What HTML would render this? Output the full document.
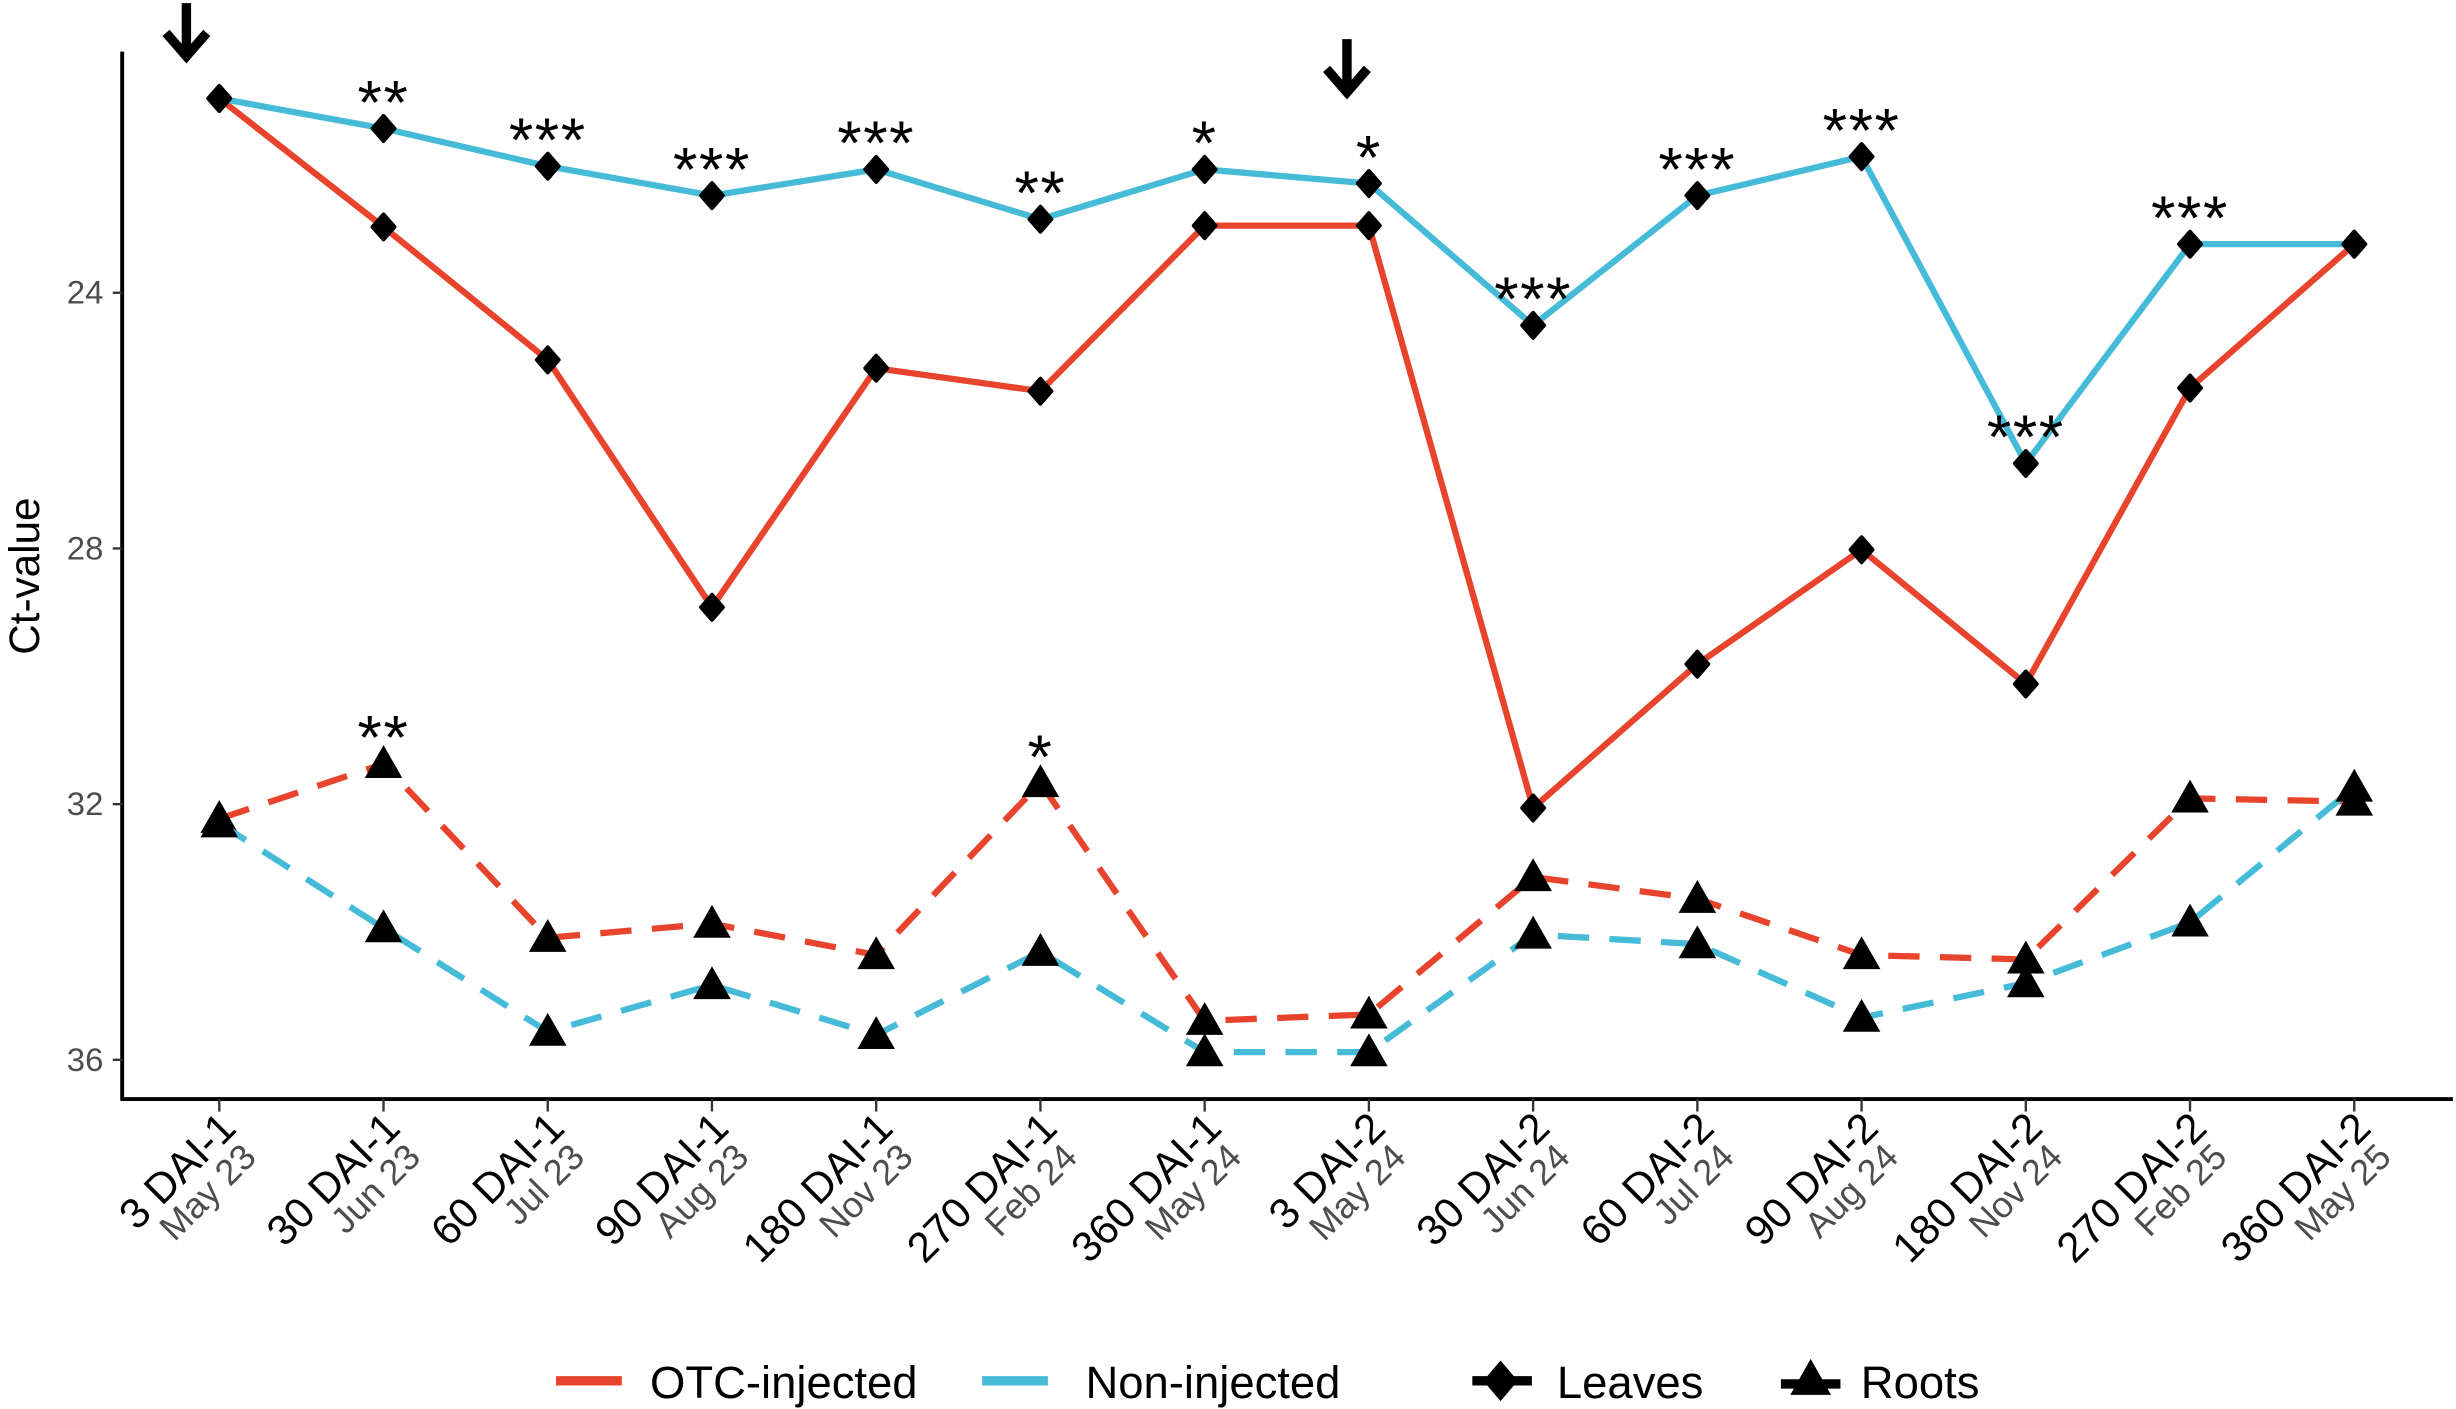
<!DOCTYPE html>
<html><head><meta charset="utf-8"><style>html,body{margin:0;padding:0;background:#fff}svg{display:block}</style></head>
<body>
<svg id="chart" width="2456" height="1409" viewBox="0 0 1568 900" preserveAspectRatio="none" xmlns="http://www.w3.org/2000/svg" font-family="Liberation Sans, Arial, sans-serif"></svg>
<script>
const categories=["3 DAI-1","30 DAI-1","60 DAI-1","90 DAI-1","180 DAI-1","270 DAI-1","360 DAI-1","3 DAI-2","30 DAI-2","60 DAI-2","90 DAI-2","180 DAI-2","270 DAI-2","360 DAI-2"];
const dates=["May 23","Jun 23","Jul 23","Aug 23","Nov 23","Feb 24","May 24","May 24","Jun 24","Jul 24","Aug 24","Nov 24","Feb 25","May 25"];
const leavesOTC=[20.96,22.97,25.05,28.92,25.18,25.54,22.95,22.95,32.06,29.81,28.02,30.12,25.49,23.24];
const leavesNon=[20.96,21.43,22.02,22.48,22.07,22.85,22.07,22.29,24.51,22.48,21.87,26.67,23.24,23.24];
const rootsOTC=[32.23,31.37,34.09,33.87,34.36,31.67,35.39,35.29,33.14,33.48,34.36,34.43,31.91,31.96];
const rootsNon=[32.30,33.94,35.56,34.83,35.61,34.31,35.88,35.88,34.04,34.19,35.34,34.80,33.85,31.74];
const leafStars=["","**","***","***","***","**","*","*","***","***","***","***","***",""];
const rootStars=["","**","","","","*","","","","","","","",""];
const yTicks=[24,28,32,36];
const arrowIdx=[0,7];

const svg=document.getElementById('chart');
const NS="http://www.w3.org/2000/svg";
const x=i=>140+i*104.85;
const y=v=>187+(v-24)*40.83;
function mk(tag,attrs,parent){const e=document.createElementNS(NS,tag);for(const k in attrs)e.setAttribute(k,attrs[k]);(parent||svg).appendChild(e);return e;}
const RED="#e8432c",BLUE="#45bbd8";

let ax=mk('line',{x1:78,y1:33,x2:78,y2:703,stroke:'#000','stroke-width':2.5});


ax=mk('line',{x1:77,y1:702,x2:1566,y2:702,stroke:'#000','stroke-width':2.5});


yTicks.forEach(t=>{
  mk('line',{x1:72,y1:y(t),x2:78,y2:y(t),stroke:'#333','stroke-width':1.5});
  const tx=mk('text',{x:66,y:y(t)+7,'text-anchor':'end','font-size':21,fill:'#4d4d4d'});
  tx.textContent=t;
  
  
});
const yl=mk('text',{x:0,y:0,transform:'translate(25,368) rotate(-90)','text-anchor':'middle','font-size':27,fill:'#000'});
yl.textContent='Ct-value';



categories.forEach((c,i)=>{
  mk('line',{x1:x(i),y1:702,x2:x(i),y2:710,stroke:'#333','stroke-width':1.5});
  const g=mk('g',{transform:`translate(${x(i)+12},722) rotate(-45)`});
  
  
  const t1=mk('text',{x:0,y:0,'text-anchor':'end','font-size':27,fill:'#000'},g);t1.textContent=c;
  const t2=mk('text',{x:-4,y:22,'text-anchor':'end','font-size':23,fill:'#4d4d4d'},g);t2.textContent=dates[i];
});

function series(vals,color,dash,name,marker){
  const p=mk('polyline',{points:vals.map((v,i)=>x(i)+','+y(v)).join(' '),fill:'none',stroke:color,'stroke-width':4,'stroke-dasharray':dash||'none','stroke-linejoin':'round'});
  
  
  vals.forEach((v,i)=>{
    let m;
    if(marker==='d') m=mk('path',{d:`M${x(i)},${y(v)-8} L${x(i)+7},${y(v)} L${x(i)},${y(v)+8} L${x(i)-7},${y(v)} Z`,fill:'#000',stroke:'#000','stroke-width':2.5,'stroke-linejoin':'round'});
    else m=mk('path',{d:`M${x(i)},${y(v)-12} L${x(i)+12},${y(v)+9} L${x(i)-12},${y(v)+9} Z`,fill:'#000'});
    
    
  });
}
series(leavesOTC,RED,null,'leaves-otc','d');
series(leavesNon,BLUE,null,'leaves-non','d');
series(rootsOTC,RED,'20 13','roots-otc','t');
series(rootsNon,BLUE,'20 13','roots-non','t');

leafStars.forEach((s,i)=>{if(!s)return;
  const top=Math.min(y(leavesOTC[i]),y(leavesNon[i]));
  const t=mk('text',{x:x(i),y:top-3,'text-anchor':'middle','font-size':40,fill:'#000','letter-spacing':1});t.textContent=s;
  
  
});
rootStars.forEach((s,i)=>{if(!s)return;
  const top=Math.min(y(rootsOTC[i]),y(rootsNon[i]));
  const t=mk('text',{x:x(i),y:top-3,'text-anchor':'middle','font-size':40,fill:'#000','letter-spacing':1});t.textContent=s;
  
  
});
arrowIdx.forEach((i,k)=>{
  const ax0=x(i)-(k===0?21:14), ay=k===0?2:25;
  const a=mk('path',{d:`M${ax0},${ay} L${ax0},${ay+32} M${ax0-13},${ay+19} L${ax0},${ay+34} L${ax0+13},${ay+19}`,stroke:'#000','stroke-width':6,fill:'none'});
  
  
});

const lg=mk('g',{});


function lgItem(name,draw,label,tx){
  const g=mk('g',{},lg);
  
  
  draw(g);
  const t=mk('text',{x:tx,y:893,'font-size':29,fill:'#000'},g);t.textContent=label;
}
lgItem('legend-entry-otc',g=>mk('line',{x1:355,y1:882,x2:397,y2:882,stroke:RED,'stroke-width':6},g),'OTC-injected',415);
lgItem('legend-entry-non',g=>mk('line',{x1:627,y1:882,x2:669,y2:882,stroke:BLUE,'stroke-width':6},g),'Non-injected',693);
lgItem('legend-entry-leaves',g=>{mk('line',{x1:940,y1:882,x2:978,y2:882,stroke:'#000','stroke-width':6},g);mk('path',{d:'M958,869 L969,882 L958,895 L947,882 Z',fill:'#000'},g);},'Leaves',994);
lgItem('legend-entry-roots',g=>{mk('line',{x1:1137,y1:884,x2:1175,y2:884,stroke:'#000','stroke-width':6},g);mk('path',{d:'M1156,868 L1169,891 L1143,891 Z',fill:'#000'},g);},'Roots',1188);
</script>
</body></html>
